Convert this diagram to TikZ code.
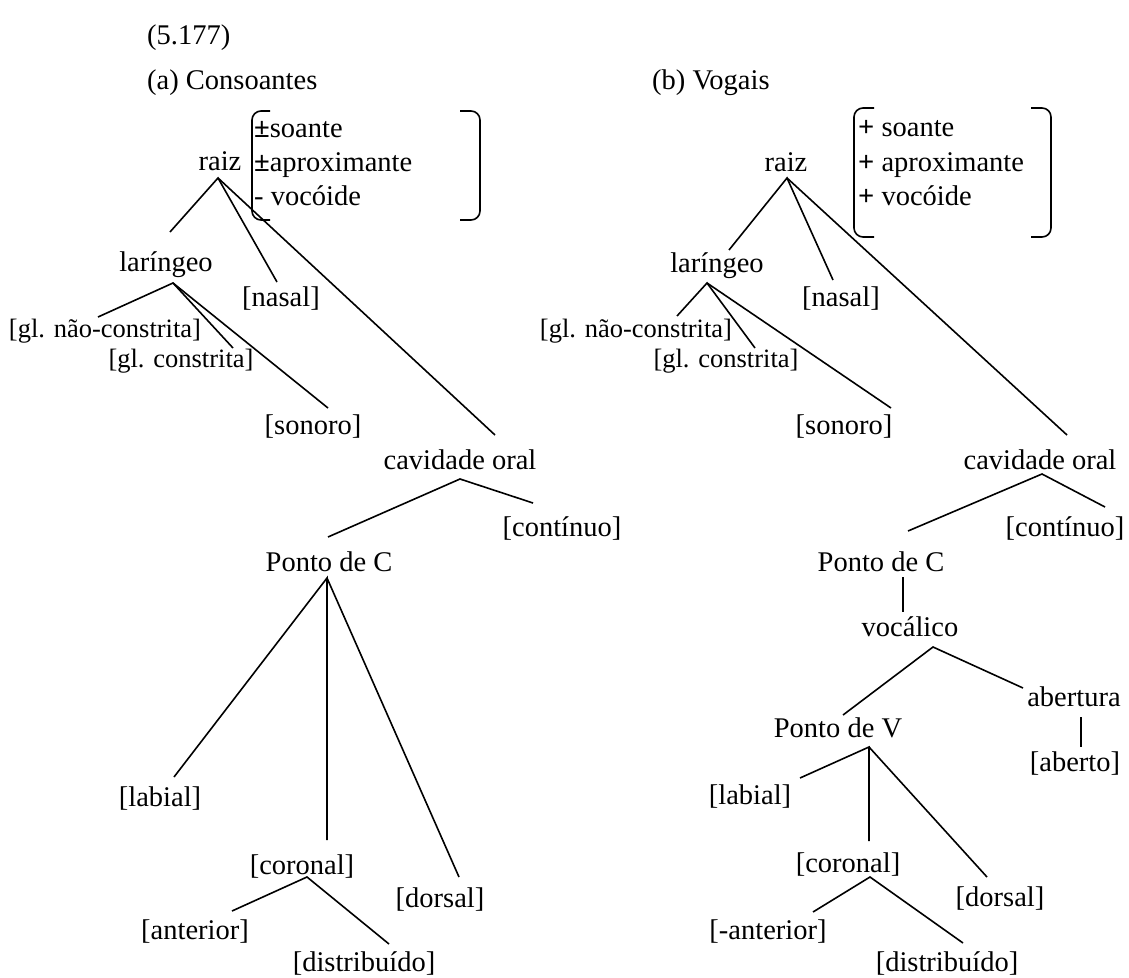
\documentclass[tikz,border=0pt]{standalone}
\usepackage{fontspec}
\setmainfont{Liberation Serif}
\begin{document}
\begin{tikzpicture}[x=1pt,y=-1pt,
  every node/.style={inner sep=0pt, text height=21pt, text depth=3pt, font=\fontsize{28.5}{34}\selectfont},
  sm/.style={font=\fontsize{26.5}{32}\selectfont},
  lbl/.style={anchor=west},
  ln/.style={line width=1.6pt},
  br/.style={line width=1.6pt, rounded corners=9pt}]
\useasboundingbox (0,0) rectangle (1129,977);

% ---------- headings
\node[lbl] (num) at (147,35) {(5.177)};
\node[lbl] (ha) at (147,80) {(a) Consoantes};
\node[lbl] (hb) at (652,80) {(b) Vogais};

% ================= (a) Consoantes
\draw[br] (270,111) -- (252,111) -- (252,220) -- (270,220);
\draw[br] (460,111) -- (480,111) -- (480,220) -- (460,220);
\node[lbl] (fa1) at (254,128) {\textbf{±}soante};
\node[lbl] (fa2) at (254,162) {\textbf{±}aproximante};
\node[lbl] (fa3) at (254,196) {- vocóide};

\node (raizA) at (220,161) {raiz};
\node (larA) at (166,262) {laríngeo};
\node[sm] (gnA) at (105,328) {[gl. não-constrita]};
\node[sm] (gcA) at (181,358) {[gl. constrita]};
\node (nasA) at (281,297) {[nasal]};
\node (sonA) at (313,425) {[sonoro]};
\node (cavA) at (460,460) {cavidade oral};
\node (conA) at (562,527) {[contínuo]};
\node (pcA) at (329,562) {Ponto de C};
\node (labA) at (160,797) {[labial]};
\node (corA) at (302,865) {[coronal]};
\node (dorA) at (440,898) {[dorsal]};
\node (antA) at (195,930) {[anterior]};
\node (disA) at (364,962) {[distribuído]};

\coordinate (raizAb) at (218,178);
\coordinate (larAt) at (170,232);
\coordinate (nasAt) at (277,282);
\coordinate (cavAt) at (495,435);
\coordinate (larAb) at (173,283);
\coordinate (gnAt) at (98,317);
\coordinate (gcAt) at (233,348);
\coordinate (sonAt) at (328,408);
\coordinate (cavAb) at (460,479);
\coordinate (pcAt) at (328,537);
\coordinate (conAt) at (533,503);
\coordinate (pcAb) at (327,578);
\coordinate (labAt) at (174,777);
\coordinate (corAt) at (327,840);
\coordinate (dorAt) at (459,877);
\coordinate (corAb) at (307,877);
\coordinate (antAt) at (232,911);
\coordinate (disAt) at (389,944);

\draw[ln] (larAt) -- (raizAb) -- (nasAt);
\draw[ln] (raizAb) -- (cavAt);
\draw[ln] (gnAt) -- (larAb) -- (gcAt);
\draw[ln] (larAb) -- (sonAt);
\draw[ln] (pcAt) -- (cavAb) -- (conAt);
\draw[ln] (labAt) -- (pcAb) -- (corAt);
\draw[ln] (pcAb) -- (dorAt);
\draw[ln] (antAt) -- (corAb) -- (disAt);

% ================= (b) Vogais
\draw[br] (874,108) -- (854,108) -- (854,237) -- (874,237);
\draw[br] (1031,108) -- (1051,108) -- (1051,237) -- (1031,237);
\node[lbl] (fb1) at (858,127) {\textbf{+} soante};
\node[lbl] (fb2) at (858,162) {\textbf{+} aproximante};
\node[lbl] (fb3) at (858,196) {\textbf{+} vocóide};

\node (raizB) at (786,162) {raiz};
\node (larB) at (717,263) {laríngeo};
\node[sm] (gnB) at (636,328) {[gl. não-constrita]};
\node[sm] (gcB) at (726,358) {[gl. constrita]};
\node (nasB) at (841,297) {[nasal]};
\node (sonB) at (844,425) {[sonoro]};
\node (cavB) at (1040,460) {cavidade oral};
\node (conB) at (1065,527) {[contínuo]};
\node (pcB) at (881,562) {Ponto de C};
\node (vocB) at (910,627) {vocálico};
\node (abB) at (1074,697) {abertura};
\node (aboB) at (1075,762) {[aberto]};
\node (pvB) at (838,728) {Ponto de V};
\node (labB) at (750,795) {[labial]};
\node (corB) at (848,863) {[coronal]};
\node (dorB) at (1000,897) {[dorsal]};
\node (antB) at (768,930) {[-anterior]};
\node (disB) at (947,962) {[distribuído]};

\coordinate (raizBb) at (787,178);
\coordinate (larBt) at (729,250);
\coordinate (nasBt) at (833,280);
\coordinate (cavBt) at (1067,435);
\coordinate (larBb) at (707,283);
\coordinate (gnBt) at (677,316);
\coordinate (gcBt) at (755,348);
\coordinate (sonBt) at (891,408);
\coordinate (cavBb) at (1042,474);
\coordinate (pcBt) at (908,531);
\coordinate (conBt) at (1105,507);
\coordinate (pcBb) at (903,577);
\coordinate (vocBt) at (903,612);
\coordinate (vocBb) at (933,647);
\coordinate (pvBt) at (843,715);
\coordinate (abBt) at (1023,688);
\coordinate (abBb) at (1081,717);
\coordinate (aboBt) at (1081,747);
\coordinate (pvBb) at (869,747);
\coordinate (labBt) at (800,778);
\coordinate (corBt) at (869,841);
\coordinate (dorBt) at (987,877);
\coordinate (corBb) at (870,877);
\coordinate (antBt) at (813,912);
\coordinate (disBt) at (963,943);

\draw[ln] (larBt) -- (raizBb) -- (nasBt);
\draw[ln] (raizBb) -- (cavBt);
\draw[ln] (gnBt) -- (larBb) -- (gcBt);
\draw[ln] (larBb) -- (sonBt);
\draw[ln] (pcBt) -- (cavBb) -- (conBt);
\draw[ln] (pcBb) -- (vocBt);
\draw[ln] (pvBt) -- (vocBb) -- (abBt);
\draw[ln] (abBb) -- (aboBt);
\draw[ln] (labBt) -- (pvBb) -- (corBt);
\draw[ln] (pvBb) -- (dorBt);
\draw[ln] (antBt) -- (corBb) -- (disBt);
\end{tikzpicture}
\end{document}
